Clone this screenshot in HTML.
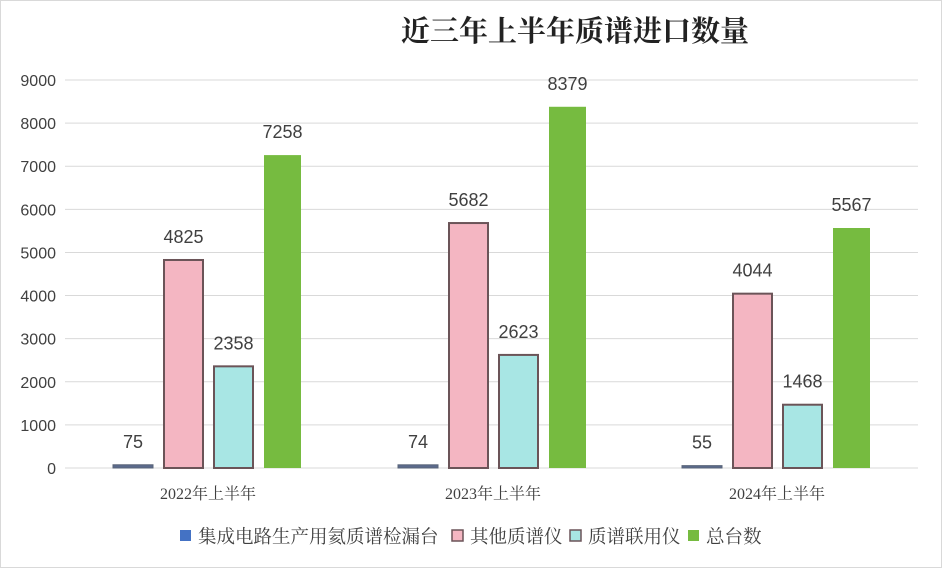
<!DOCTYPE html>
<html><head><meta charset="utf-8"><style>
html,body{margin:0;padding:0;background:#fff;}
svg{display:block;}
</style></head><body>
<svg id="c" width="942" height="568" xmlns="http://www.w3.org/2000/svg">
<rect x="0.5" y="0.5" width="941" height="567" fill="#fff" stroke="#d9d9d9"/>
<text x="575" y="41" text-anchor="middle" font-family="'Liberation Serif','Noto Serif CJK SC',serif" font-weight="bold" font-size="29" fill="#222">近三年上半年质谱进口数量</text>
<g id="g"></g>
</svg>
<script>
var g=document.getElementById('g'),s='';
function y(v){return 468-v*388/9000;}
for(var i=0;i<=9;i++){var yy=y(i*1000);
s+='<line x1="65" x2="918" y1="'+yy+'" y2="'+yy+'" stroke="#d9d9d9" stroke-width="1"/>';
s+='<text x="56" y="'+(yy+6)+'" text-anchor="end" font-family="Liberation Sans,sans-serif" font-size="16" fill="#404040">'+(i*1000)+'</text>';}
var data=[[75,4825,2358,7258],[74,5682,2623,8379],[55,4044,1468,5567]];
var cols=['#4472c4','#f4b6c2','#a8e6e4','#76bb40'];
var xs=[113,164,214,264],ws=[40,39,39,37];
var off=[0,285,569],lab=['2022年上半年','2023年上半年','2024年上半年'];
for(var k=0;k<3;k++){for(var j=0;j<4;j++){var v=data[k][j],x=xs[j]+off[k],t=y(v);
var st=(j==1||j==2)?' stroke="#6b5458" stroke-width="2"':(j==0?' stroke="#5a6478" stroke-width="1"':'');
s+='<rect x="'+x+'" y="'+t+'" width="'+ws[j]+'" height="'+(468-t)+'" fill="'+(j==0?'#5b6a8c':cols[j])+'"'+st+'/>';
s+='<text x="'+(x+ws[j]/2)+'" y="'+(t-17)+'" text-anchor="middle" font-family="Liberation Sans,sans-serif" font-size="18" fill="#404040">'+v+'</text>';}
s+='<text x="'+(208+off[k])+'" y="499" text-anchor="middle" font-family="\'Liberation Serif\',\'Noto Serif CJK SC\',serif" font-size="16" fill="#404040">'+lab[k]+'</text>';}
var lg=[[180,'集成电路生产用氦质谱检漏台'],[452,'其他质谱仪'],[570,'质谱联用仪'],[688,'总台数']];
for(var j=0;j<4;j++){s+='<rect x="'+lg[j][0]+'" y="530" width="11" height="11" fill="'+cols[j]+'"'+((j==1||j==2)?' stroke="#6b5458" stroke-width="1.5"':'')+'/>';
s+='<text x="'+(lg[j][0]+18)+'" y="543" font-family="\'Liberation Serif\',\'Noto Serif CJK SC\',serif" font-size="18.5" fill="#404040">'+lg[j][1]+'</text>';}
g.innerHTML=s;
</script>
</body></html>
